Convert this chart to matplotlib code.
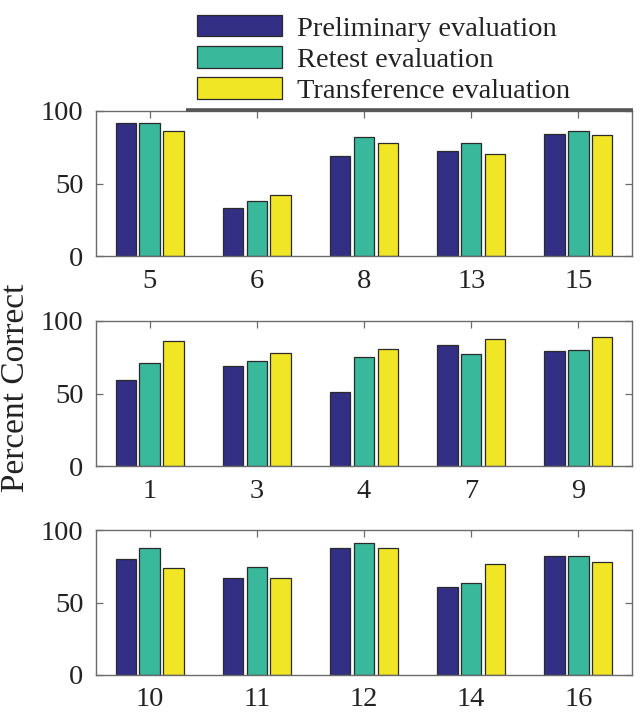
import matplotlib
matplotlib.use("Agg")
import matplotlib.pyplot as plt
from matplotlib.lines import Line2D
import numpy as np

plt.rcParams['font.family'] = ['Liberation Serif', 'DejaVu Serif']

series_names = ["Preliminary evaluation", "Retest evaluation", "Transference evaluation"]
colors = ["#332f85", "#39b89c", "#f1e626"]

cats_top = ["5", "6", "8", "13", "15"]
prelim_top = [92, 33, 69, 72.5, 84]
retest_top = [92, 38, 82, 78, 86]
transf_top = [86, 42, 78, 70.5, 83.5]

cats_mid = ["1", "3", "4", "7", "9"]
prelim_mid = [59, 69, 51, 83.5, 79]
retest_mid = [71, 72.5, 75.5, 77, 80]
transf_mid = [86, 78, 81, 87.5, 89]

cats_bot = ["10", "11", "12", "14", "16"]
prelim_bot = [80, 67, 87.5, 60.5, 82]
retest_bot = [87.5, 74.5, 91, 63.5, 82]
transf_bot = [73.5, 67, 87.5, 76.5, 78]

yticks = [0, 50, 100]

W, H = 642, 713
fig = plt.figure(figsize=(W / 100, H / 100), dpi=100)

panels = [
    (cats_top, [prelim_top, retest_top, transf_top], 111, 256),
    (cats_mid, [prelim_mid, retest_mid, transf_mid], 321, 466),
    (cats_bot, [prelim_bot, retest_bot, transf_bot], 530, 675),
]

left_px, right_px = 96, 632
spine_col = "#6b6b6b"
fs = 20.5
bar_w = 0.19
offset = 0.222

handles = None
for cats, vals, top_px, bot_px in panels:
    ax = fig.add_axes([left_px / W, 1 - bot_px / H, (right_px - left_px) / W, (bot_px - top_px) / H])
    x = np.arange(1, len(cats) + 1)
    hs = []
    for i, (v, c) in enumerate(zip(vals, colors)):
        b = ax.bar(x + (i - 1) * offset, v, width=bar_w, color=c, edgecolor="#2a2a2a",
                   linewidth=0.9, label=series_names[i], zorder=2)
        hs.append(b)
    handles = hs
    ax.set_xlim(0.5, len(cats) + 0.5)
    ax.set_ylim(0, 100)
    ax.set_xticks(x)
    ax.set_xticklabels(cats)
    ax.set_yticks(yticks)
    ax.tick_params(direction="in", length=5, width=0.9, color=spine_col,
                   top=True, right=True, labelsize=fs, labelcolor="#222222")
    ax.tick_params(axis="x", pad=9)
    ax.tick_params(axis="y", pad=9)
    for s in ax.spines.values():
        s.set_color(spine_col)
        s.set_linewidth(1.0)

fig.text(16 / W, 1 - 388 / H, "Percent Correct", rotation=90, ha="center", va="center",
         fontsize=24, color="#222222")

leg = fig.legend(handles=handles, labels=series_names, loc="upper left",
                 bbox_to_anchor=(197 / W, 1 - 15 / H), bbox_transform=fig.transFigure,
                 frameon=False, fontsize=fs, handlelength=3.0, handleheight=0.78,
                 handletextpad=0.5, labelspacing=0.16, borderpad=0, borderaxespad=0)
for t in leg.get_texts():
    t.set_color("#222222")

fig.add_artist(Line2D([186 / W, 633 / W], [1 - 110 / H, 1 - 110 / H], lw=2.6,
                      color="#555555", transform=fig.transFigure, solid_capstyle="butt"))

fig.savefig("out.png", dpi=100)
